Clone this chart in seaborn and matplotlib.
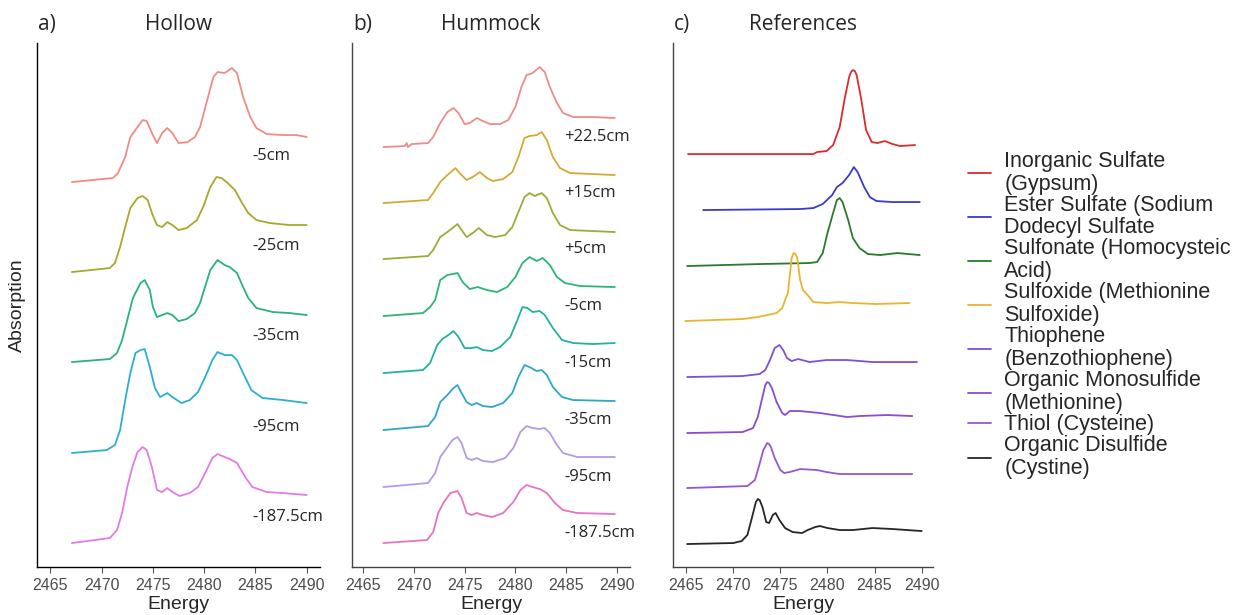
import pandas as pd
import matplotlib
matplotlib.use("Agg")
import matplotlib.pyplot as plt
import seaborn as sns

# ---------------- a) Hollow : energy (eV) / normalised absorption ----------------
hollow_m5_e = [2467.1, 2471.1, 2471.6, 2472.3, 2472.8, 2473.5, 2474.0, 2474.4, 2474.9, 2475.4,
               2475.9, 2476.4, 2476.9, 2477.5, 2478.4, 2479.1, 2479.6, 2480.3, 2480.9, 2481.3,
               2482.0, 2482.7, 2483.2, 2483.8, 2484.5, 2485.1, 2486.1, 2487.7, 2489.0, 2490.0]
hollow_m5_a = [0.00, 0.04, 0.09, 0.25, 0.45, 0.55, 0.62, 0.61, 0.49, 0.39,
               0.49, 0.54, 0.49, 0.39, 0.40, 0.45, 0.55, 0.82, 1.05, 1.10,
               1.09, 1.14, 1.09, 0.85, 0.65, 0.54, 0.48, 0.47, 0.47, 0.45]

hollow_m25_e = [2467.1, 2470.8, 2471.3, 2471.8, 2472.3, 2472.8, 2473.5, 2474.0, 2474.5, 2474.9,
                2475.4, 2475.9, 2476.4, 2476.9, 2477.5, 2478.3, 2479.3, 2479.9, 2480.6, 2481.2,
                2481.7, 2482.3, 2483.0, 2483.7, 2484.3, 2485.1, 2486.4, 2488.3, 2490.0]
hollow_m25_a = [0.00, 0.04, 0.09, 0.25, 0.45, 0.64, 0.74, 0.76, 0.72, 0.59,
                0.47, 0.45, 0.50, 0.47, 0.42, 0.44, 0.52, 0.65, 0.85, 0.95,
                0.94, 0.89, 0.82, 0.69, 0.59, 0.52, 0.49, 0.47, 0.47]

hollow_m35_e = [2467.1, 2470.8, 2471.5, 2472.0, 2472.5, 2473.0, 2473.1, 2473.8, 2474.2, 2474.7,
                2475.0, 2475.4, 2475.9, 2476.4, 2476.9, 2477.5, 2478.3, 2479.1, 2479.6, 2479.9,
                2480.6, 2481.3, 2482.0, 2482.5, 2483.2, 2483.8, 2484.3, 2485.1, 2486.7, 2488.3, 2490.0]
hollow_m35_a = [0.00, 0.03, 0.09, 0.22, 0.42, 0.62, 0.65, 0.79, 0.82, 0.72,
                0.55, 0.45, 0.47, 0.49, 0.47, 0.41, 0.43, 0.49, 0.59, 0.69,
                0.92, 1.02, 0.97, 0.95, 0.89, 0.75, 0.64, 0.54, 0.50, 0.49, 0.47]

hollow_m95_e = [2467.1, 2470.5, 2471.3, 2471.8, 2472.3, 2472.8, 2473.3, 2473.8, 2474.2, 2474.7,
                2475.2, 2475.7, 2476.4, 2476.9, 2477.8, 2478.6, 2479.4, 2480.1, 2480.8, 2481.3,
                2482.0, 2482.7, 2483.2, 2483.8, 2484.6, 2485.7, 2487.7, 2490.0]
hollow_m95_a = [0.00, 0.03, 0.08, 0.23, 0.53, 0.80, 1.00, 1.03, 1.04, 0.86,
                0.65, 0.56, 0.60, 0.56, 0.50, 0.53, 0.61, 0.76, 0.93, 1.01,
                0.98, 0.98, 0.93, 0.80, 0.63, 0.55, 0.53, 0.50]

hollow_m187_e = [2467.1, 2470.8, 2471.5, 2472.0, 2472.5, 2473.0, 2473.5, 2474.0, 2474.4, 2474.9,
                 2475.4, 2475.9, 2476.4, 2476.9, 2477.6, 2478.6, 2479.4, 2480.1, 2480.8, 2481.3,
                 2482.0, 2482.5, 2483.2, 2484.0, 2484.7, 2486.1, 2487.7, 2490.0]
hollow_m187_a = [0.00, 0.05, 0.13, 0.30, 0.56, 0.76, 0.91, 0.96, 0.93, 0.76,
                 0.53, 0.51, 0.55, 0.51, 0.47, 0.50, 0.56, 0.70, 0.85, 0.89,
                 0.86, 0.84, 0.80, 0.66, 0.56, 0.51, 0.50, 0.48]

hollow_labels = ["-5cm", "-25cm", "-35cm", "-95cm", "-187.5cm"]
hollow_offsets = [3.85, 2.95, 2.05, 1.14, 0.24]
hollow_colors = ["#F08C84", "#A9A82C", "#2BB27C", "#2AAFD4", "#E27BE6"]

# ---------------- b) Hummock ----------------
hum_p22_e = [2467.0, 2469.1, 2469.3, 2469.4, 2469.8, 2471.4, 2471.9, 2472.6, 2473.3, 2473.9,
             2474.4, 2475.0, 2475.5, 2476.2, 2476.8, 2477.5, 2478.5, 2479.3, 2480.0, 2480.6,
             2481.1, 2481.7, 2482.4, 2482.9, 2483.4, 2484.1, 2484.7, 2485.7, 2487.6, 2489.8]
hum_p22_a = [0.00, 0.01, 0.04, 0.00, 0.03, 0.04, 0.10, 0.24, 0.35, 0.39,
             0.34, 0.23, 0.24, 0.29, 0.26, 0.23, 0.23, 0.27, 0.40, 0.60,
             0.72, 0.74, 0.80, 0.75, 0.60, 0.44, 0.34, 0.30, 0.30, 0.29]

hum_p15_e = [2467.0, 2471.4, 2471.9, 2472.6, 2473.3, 2474.1, 2474.5, 2475.2, 2475.8, 2476.5,
             2477.2, 2477.8, 2478.8, 2479.7, 2480.3, 2480.9, 2481.4, 2482.1, 2482.6, 2483.1,
             2483.7, 2484.4, 2485.4, 2487.6, 2489.8]
hum_p15_a = [0.00, 0.03, 0.10, 0.21, 0.28, 0.35, 0.30, 0.23, 0.26, 0.31,
             0.25, 0.22, 0.24, 0.31, 0.46, 0.65, 0.67, 0.68, 0.71, 0.63,
             0.46, 0.35, 0.30, 0.29, 0.28]

hum_p5_e = [2467.0, 2471.4, 2471.9, 2472.6, 2473.3, 2474.3, 2474.7, 2475.2, 2475.8, 2476.4,
            2477.2, 2478.0, 2479.0, 2479.7, 2480.3, 2480.9, 2481.4, 2481.9, 2482.6, 2483.1,
            2483.7, 2484.4, 2485.4, 2487.6, 2489.8]
hum_p5_a = [0.00, 0.03, 0.09, 0.22, 0.27, 0.35, 0.29, 0.22, 0.26, 0.31,
            0.24, 0.22, 0.24, 0.32, 0.47, 0.62, 0.66, 0.63, 0.66, 0.61,
            0.46, 0.34, 0.29, 0.28, 0.27]

hum_m5_e = [2467.0, 2470.9, 2471.6, 2472.1, 2472.6, 2473.3, 2474.3, 2474.8, 2475.5, 2476.3,
            2477.2, 2478.2, 2479.2, 2480.0, 2480.7, 2481.4, 2482.1, 2482.7, 2483.4, 2484.1,
            2484.9, 2486.4, 2489.8]
hum_m5_a = [0.00, 0.03, 0.09, 0.16, 0.36, 0.41, 0.43, 0.34, 0.27, 0.29,
            0.26, 0.24, 0.29, 0.39, 0.53, 0.59, 0.55, 0.58, 0.51, 0.39,
            0.33, 0.30, 0.29]

hum_m15_e = [2467.0, 2470.9, 2471.6, 2472.3, 2472.8, 2473.4, 2473.9, 2474.4, 2475.0, 2475.7,
             2476.2, 2476.8, 2477.7, 2478.5, 2479.5, 2480.2, 2480.7, 2481.2, 2481.7, 2482.4,
             2482.9, 2483.7, 2484.6, 2485.7, 2487.6, 2489.8]
hum_m15_a = [0.00, 0.03, 0.10, 0.28, 0.34, 0.38, 0.42, 0.36, 0.25, 0.25,
             0.26, 0.23, 0.22, 0.26, 0.36, 0.53, 0.66, 0.65, 0.61, 0.62,
             0.58, 0.45, 0.33, 0.30, 0.29, 0.30]

hum_m35_e = [2467.0, 2471.4, 2472.1, 2472.6, 2473.3, 2473.9, 2474.3, 2474.7, 2475.2, 2475.7,
             2476.2, 2476.8, 2477.7, 2478.8, 2479.7, 2480.3, 2480.9, 2481.4, 2482.1, 2482.6,
             2483.1, 2483.7, 2484.6, 2485.7, 2489.8]
hum_m35_a = [0.00, 0.04, 0.13, 0.28, 0.35, 0.42, 0.45, 0.37, 0.28, 0.25,
             0.27, 0.24, 0.23, 0.27, 0.37, 0.53, 0.65, 0.63, 0.59, 0.60,
             0.55, 0.43, 0.33, 0.30, 0.29]

hum_m95_e = [2467.0, 2471.4, 2472.1, 2472.6, 2473.1, 2473.8, 2474.3, 2474.7, 2475.2, 2475.7,
             2476.2, 2476.8, 2477.8, 2479.0, 2479.8, 2480.5, 2481.1, 2481.7, 2482.4, 2482.9,
             2483.4, 2484.1, 2484.7, 2486.1, 2489.8]
hum_m95_a = [0.00, 0.04, 0.14, 0.30, 0.37, 0.47, 0.50, 0.44, 0.29, 0.27,
             0.29, 0.26, 0.25, 0.29, 0.39, 0.55, 0.61, 0.59, 0.58, 0.59,
             0.54, 0.42, 0.34, 0.30, 0.30]

hum_m187_e = [2467.0, 2471.3, 2471.9, 2472.4, 2472.9, 2473.6, 2474.3, 2474.7, 2475.2, 2475.7,
              2476.2, 2476.8, 2477.7, 2478.8, 2479.8, 2480.5, 2481.1, 2481.7, 2482.4, 2483.1,
              2483.9, 2484.7, 2486.1, 2489.8]
hum_m187_a = [0.00, 0.03, 0.11, 0.30, 0.40, 0.50, 0.52, 0.45, 0.30, 0.28,
              0.30, 0.28, 0.26, 0.30, 0.41, 0.53, 0.58, 0.56, 0.54, 0.50,
              0.40, 0.33, 0.30, 0.29]

hummock_labels = ["+22.5cm", "+15cm", "+5cm", "-5cm", "-15cm", "-35cm", "-95cm", "-187.5cm"]
hummock_offsets = [4.20, 3.64, 3.08, 2.51, 1.94, 1.37, 0.80, 0.24]
hummock_colors = ["#EE8C88", "#D2AB34", "#9FAA3A", "#2DB577", "#22B39F", "#2FA6C6", "#B59AE4", "#E674C2"]

# ---------------- c) References ----------------
gypsum_e = [2465.2, 2478.5, 2478.9, 2479.9, 2480.6, 2481.3, 2481.8, 2482.3, 2482.5, 2482.7,
            2482.9, 2483.1, 2483.6, 2484.1, 2484.7, 2485.3, 2486.1, 2486.9, 2487.7, 2489.3]
gypsum_a = [0.00, 0.00, 0.02, 0.03, 0.09, 0.27, 0.54, 0.77, 0.82, 0.84,
            0.83, 0.79, 0.54, 0.24, 0.12, 0.11, 0.13, 0.10, 0.08, 0.09]

sds_e = [2466.8, 2477.1, 2478.5, 2479.5, 2480.5, 2481.0, 2481.6, 2482.3, 2482.8, 2483.2,
         2483.9, 2484.5, 2485.2, 2486.9, 2489.8]
sds_a = [0.00, 0.01, 0.02, 0.06, 0.15, 0.23, 0.27, 0.35, 0.43, 0.38,
         0.23, 0.13, 0.09, 0.08, 0.08]

homocysteic_e = [2465.1, 2472.8, 2478.1, 2478.9, 2479.5, 2480.0, 2480.6, 2481.0, 2481.3, 2481.6,
                 2482.2, 2482.7, 2483.4, 2484.3, 2485.6, 2487.4, 2489.8]
homocysteic_a = [0.00, 0.02, 0.03, 0.04, 0.13, 0.33, 0.53, 0.66, 0.68, 0.64,
                 0.46, 0.28, 0.18, 0.12, 0.11, 0.13, 0.11]

met_sulfoxide_e = [2464.9, 2471.0, 2472.6, 2473.6, 2474.6, 2475.2, 2475.5, 2475.8, 2476.2, 2476.4,
                   2476.6, 2476.8, 2477.1, 2477.4, 2477.9, 2478.5, 2479.9, 2481.3, 2482.7, 2485.2, 2488.7]
met_sulfoxide_a = [0.00, 0.02, 0.04, 0.06, 0.08, 0.13, 0.21, 0.28, 0.63, 0.68,
                   0.67, 0.63, 0.41, 0.31, 0.26, 0.19, 0.18, 0.19, 0.18, 0.17, 0.18]

benzothiophene_e = [2465.1, 2471.0, 2472.8, 2473.4, 2473.9, 2474.4, 2474.9, 2475.3, 2475.7, 2476.2,
                    2476.9, 2478.1, 2479.9, 2482.1, 2484.8, 2489.5]
benzothiophene_a = [0.00, 0.01, 0.03, 0.07, 0.17, 0.29, 0.32, 0.27, 0.19, 0.16,
                    0.18, 0.15, 0.17, 0.17, 0.15, 0.15]

methionine_e = [2465.1, 2471.0, 2472.1, 2472.6, 2473.1, 2473.4, 2473.6, 2473.8, 2474.1, 2474.6,
                2475.2, 2475.5, 2476.0, 2477.1, 2479.2, 2482.1, 2483.4, 2486.3, 2489.0]
methionine_a = [0.00, 0.01, 0.05, 0.16, 0.36, 0.48, 0.51, 0.50, 0.45, 0.31,
                0.20, 0.18, 0.22, 0.22, 0.20, 0.16, 0.17, 0.18, 0.17]

cysteine_e = [2465.1, 2471.5, 2472.3, 2472.7, 2473.2, 2473.6, 2473.8, 2474.0, 2474.4, 2475.0,
              2475.4, 2476.0, 2477.1, 2478.9, 2479.9, 2481.3, 2483.4, 2489.0]
cysteine_a = [0.00, 0.02, 0.08, 0.21, 0.38, 0.45, 0.44, 0.41, 0.30, 0.18,
              0.15, 0.16, 0.19, 0.18, 0.16, 0.14, 0.14, 0.14]

cystine_e = [2465.1, 2470.0, 2470.9, 2471.5, 2472.0, 2472.4, 2472.6, 2472.8, 2473.1, 2473.5,
             2473.8, 2474.2, 2474.5, 2474.9, 2475.5, 2476.3, 2477.3, 2477.9, 2478.7, 2479.2,
             2480.0, 2481.3, 2482.7, 2484.8, 2486.9, 2490.0]
cystine_a = [0.00, 0.01, 0.03, 0.09, 0.27, 0.42, 0.45, 0.44, 0.37, 0.22,
             0.21, 0.29, 0.31, 0.24, 0.16, 0.12, 0.11, 0.14, 0.17, 0.18,
             0.16, 0.14, 0.14, 0.16, 0.15, 0.13]

reference_labels = ["Inorganic Sulfate\n(Gypsum)", "Ester Sulfate (Sodium\nDodecyl Sulfate",
                    "Sulfonate (Homocysteic\nAcid)", "Sulfoxide (Methionine\nSulfoxide)",
                    "Thiophene\n(Benzothiophene)", "Organic Monosulfide\n(Methionine)",
                    "Thiol (Cysteine)", "Organic Disulfide\n(Cystine)"]
reference_offsets = [4.13, 3.57, 3.01, 2.46, 1.90, 1.34, 0.79, 0.23]
reference_colors = ["#DB2B30", "#3A3AD0", "#2A7A2E", "#EAB42E", "#7F50D4", "#8A4CD0", "#9658CE", "#262626"]

hollow_e = [hollow_m5_e, hollow_m25_e, hollow_m35_e, hollow_m95_e, hollow_m187_e]
hollow_a = [hollow_m5_a, hollow_m25_a, hollow_m35_a, hollow_m95_a, hollow_m187_a]
hummock_e = [hum_p22_e, hum_p15_e, hum_p5_e, hum_m5_e, hum_m15_e, hum_m35_e, hum_m95_e, hum_m187_e]
hummock_a = [hum_p22_a, hum_p15_a, hum_p5_a, hum_m5_a, hum_m15_a, hum_m35_a, hum_m95_a, hum_m187_a]
reference_e = [gypsum_e, sds_e, homocysteic_e, met_sulfoxide_e, benzothiophene_e,
               methionine_e, cysteine_e, cystine_e]
reference_a = [gypsum_a, sds_a, homocysteic_a, met_sulfoxide_a, benzothiophene_a,
               methionine_a, cysteine_a, cystine_a]


def stack_frame(energies, absorbs, labels, offsets):
    """long table with every spectrum shifted up by its stacking offset"""
    parts = []
    for e, a, lab, off in zip(energies, absorbs, labels, offsets):
        parts.append(pd.DataFrame({"Energy": e,
                                   "Absorption": [v + off for v in a],
                                   "Sample": lab}))
    return pd.concat(parts, ignore_index=True)


sns.set_style("ticks")
plt.rcParams["font.family"] = ["Liberation Sans", "DejaVu Sans"]
LABEL_FONT = ["Open Sans", "DejaVu Sans"]

fig = plt.figure(figsize=(12.38, 6.15), dpi=100)
ax_a = fig.add_axes([0.0299, 0.078, 0.2286, 0.852])
ax_b = fig.add_axes([0.2843, 0.078, 0.2246, 0.852])
ax_c = fig.add_axes([0.5436, 0.078, 0.2100, 0.852])

panels = [
    (ax_a, hollow_e, hollow_a, hollow_labels, hollow_offsets, hollow_colors, "a)", "Hollow", (2463.7, 2491.3)),
    (ax_b, hummock_e, hummock_a, hummock_labels, hummock_offsets, hummock_colors, "b)", "Hummock", (2463.9, 2491.3)),
    (ax_c, reference_e, reference_a, reference_labels, reference_offsets, reference_colors, "c)", "References", (2463.6, 2491.2)),
]

for ax, es, As, labs, offs, cols, tag, title, xl in panels:
    df = stack_frame(es, As, labs, offs)
    sns.lineplot(data=df, x="Energy", y="Absorption", hue="Sample", hue_order=labs,
                 palette=dict(zip(labs, cols)), estimator=None, sort=False,
                 linewidth=1.3, solid_joinstyle="round", ax=ax, legend=(ax is ax_c))
    ax.set_xlim(*xl)
    ax.set_ylim(0, 5.24)
    ax.set_xticks([2465, 2470, 2475, 2480, 2485, 2490])
    ax.set_yticks([])
    ax.tick_params(axis="x", length=4, width=0.8, color="#555555", labelcolor="#4D4D4D",
                   labelsize=11.5, pad=4)
    ax.set_xlabel("Energy", fontsize=14, labelpad=2)
    ax.set_ylabel("")
    sns.despine(ax=ax)
    for side in ["left", "bottom"]:
        ax.spines[side].set_color("black" if ax is ax_a else "#444444")
        ax.spines[side].set_linewidth(1.0)
    ax.text(0.005, 1.036, tag, transform=ax.transAxes, fontsize=15, family=LABEL_FONT,
            ha="left", va="center")
    ax.text(0.5, 1.036, title, transform=ax.transAxes, fontsize=15, family=LABEL_FONT,
            ha="center", va="center")

# depth labels next to each field spectrum
for lab, off in zip(hollow_labels, hollow_offsets):
    ax_a.text(2484.7, off + 0.26, lab, fontsize=12, family=LABEL_FONT, ha="left", va="center")
for lab, off in zip(hummock_labels, hummock_offsets):
    ax_b.text(2484.8, off + 0.10, lab, fontsize=12, family=LABEL_FONT, ha="left", va="center")

ax_a.set_ylabel("Absorption", fontsize=14, labelpad=8)

handles, labels = ax_c.get_legend_handles_labels()
ax_c.get_legend().remove()
leg = fig.legend(handles, labels, loc="center left", bbox_to_anchor=(0.773, 0.488),
                 frameon=False, fontsize=15.5, handlelength=1.1, handletextpad=0.6,
                 labelspacing=0.0, borderpad=0)
for t in leg.get_texts():
    t.set_linespacing(1.12)
for h in leg.legend_handles:
    h.set_linewidth(1.3)

fig.savefig("out.png", dpi=100)
